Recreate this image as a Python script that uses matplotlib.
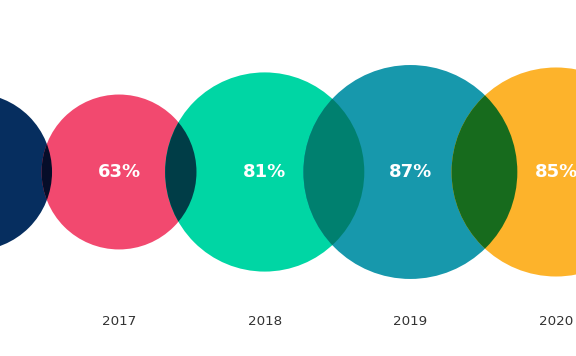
import matplotlib
matplotlib.use("Agg")
import matplotlib.pyplot as plt
from matplotlib.patches import Circle
import matplotlib.colors as mcolors

years = [2016, 2017, 2018, 2019, 2020]
values = [64, 63, 81, 87, 85]
labels = ["", "63%", "81%", "87%", "85%"]
year_labels = ["", "2017", "2018", "2019", "2020"]
colors = ["#062E5F", "#F2496F", "#00D6A4", "#1798AC", "#FDB32B"]

scale = 0.00844  # radius (in year units) per percentage point

fig = plt.figure(figsize=(5.76, 3.56), dpi=100)
ax = fig.add_axes([0, 0, 1, 1])
ax.set_xlim(2016.183, 2020.137)
ax.set_ylim(-1.263, 1.1805)
ax.set_aspect("equal")
ax.axis("off")

circles = []
for yr, v, c in zip(years, values, colors):
    circ = Circle((yr, 0), v * scale, facecolor=c, edgecolor="none", zorder=1)
    ax.add_patch(circ)
    circles.append(circ)

# multiply-blend overlaps of neighbouring circles
for i in range(len(years) - 1):
    a = mcolors.to_rgb(colors[i])
    b = mcolors.to_rgb(colors[i + 1])
    prod = tuple(x * y for x, y in zip(a, b))
    ov = Circle((years[i + 1], 0), values[i + 1] * scale, facecolor=prod,
                edgecolor="none", zorder=2)
    ax.add_patch(ov)
    ov.set_clip_path(circles[i])

for yr, lab in zip(years, labels):
    if lab:
        ax.text(yr, 0, lab, ha="center", va="center", color="white",
                fontsize=13, fontweight="bold", family="DejaVu Sans", zorder=3)

for yr, lab in zip(years, year_labels):
    if lab:
        ax.text(yr, -1.023, lab, ha="center", va="center", color="#333333",
                fontsize=9.7, family="DejaVu Sans", zorder=3)

fig.savefig("out.png", dpi=100, facecolor="white")
